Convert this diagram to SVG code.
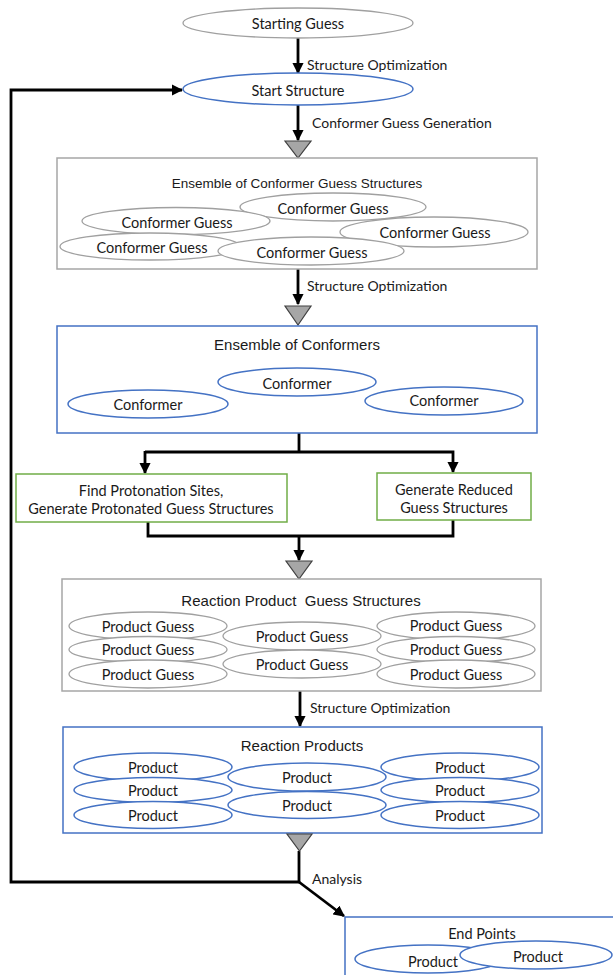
<svg xmlns="http://www.w3.org/2000/svg" width="613" height="975" viewBox="0 0 613 975">
<defs>
<style>
.cal{font-family:Lato,"Liberation Sans",sans-serif;font-size:14.5px;fill:#1a1a1a;text-anchor:middle;dominant-baseline:central}
.calL{font-family:Lato,"Liberation Sans",sans-serif;font-size:14px;fill:#1a1a1a;dominant-baseline:central}
.ari{font-family:"Liberation Sans",Arial,sans-serif;fill:#1a1a1a;text-anchor:middle;dominant-baseline:central;white-space:pre}
.gbox{fill:#fff;stroke:#a6a6a6;stroke-width:1.5}
.bbox{fill:#fff;stroke:#4472c4;stroke-width:1.5}
.grbox{fill:#fff;stroke:#70ad47;stroke-width:1.5}
.ge{fill:#fff;stroke:#a0a0a0;stroke-width:1.3}
.be{fill:#fff;stroke:#4472c4;stroke-width:1.5}
.ln{fill:none;stroke:#000;stroke-width:2.8}
.tri{fill:#a6a6a6;stroke:#404040;stroke-width:1.2}
</style>
<marker id="ah" viewBox="0 0 10 10" refX="9" refY="5" markerWidth="4" markerHeight="4" orient="auto" markerUnits="strokeWidth">
<path d="M0,0 L10,5 L0,10 z" fill="#000"/>
</marker>
</defs>
<rect width="613" height="975" fill="#fff"/>

<g id="connectors">
<line class="ln" x1="298" y1="38" x2="298" y2="73" marker-end="url(#ah)"/>
<line class="ln" x1="298" y1="105" x2="298" y2="140" marker-end="url(#ah)"/>
<line class="ln" x1="298" y1="269" x2="298" y2="304" marker-end="url(#ah)"/>
<polyline class="ln" points="299,433 299,452"/>
<polyline class="ln" points="145,452 453,452 453,472" marker-end="url(#ah)"/>
<line class="ln" x1="145" y1="451" x2="145" y2="473" marker-end="url(#ah)"/>
<polyline class="ln" points="148,522 148,536 453,536 453,520"/>
<line class="ln" x1="299" y1="536" x2="299" y2="560" marker-end="url(#ah)"/>
<line class="ln" x1="300" y1="691" x2="300" y2="726" marker-end="url(#ah)"/>
<polyline class="ln" points="299,851 299,882 11,882 11,90 182,90" marker-end="url(#ah)"/>
<line class="ln" x1="299" y1="882" x2="344" y2="916" marker-end="url(#ah)"/>
<text class="calL" x="307" y="64">Structure Optimization</text>
<text class="calL" x="312" y="122">Conformer Guess Generation</text>
<text class="calL" x="307" y="285">Structure Optimization</text>
<text class="calL" x="310" y="707">Structure Optimization</text>
<text class="calL" x="312" y="878">Analysis</text>
</g>

<g id="starting-guess">
<ellipse class="ge" cx="298" cy="23" rx="115" ry="15"/>
<text class="cal" x="298" y="23">Starting Guess</text>
</g>

<g id="start-structure">
<ellipse class="be" cx="298" cy="89" rx="115" ry="16"/>
<text class="cal" x="298" y="90">Start Structure</text>
</g>

<g id="tri1"><polygon class="tri" points="285,141 311,141 298,158"/></g>

<g id="conformer-guesses">
<rect class="gbox" x="57" y="158" width="480" height="111"/>
<text class="ari" x="297" y="183" font-size="13.5">Ensemble of Conformer Guess Structures</text>
<ellipse class="ge" cx="333" cy="207" rx="93" ry="14"/>
<text class="cal" x="333" y="208">Conformer Guess</text>
<ellipse class="ge" cx="176" cy="221" rx="94" ry="13.5"/>
<text class="cal" x="177" y="222">Conformer Guess</text>
<ellipse class="ge" cx="434" cy="232" rx="94" ry="15"/>
<text class="cal" x="435" y="232">Conformer Guess</text>
<ellipse class="ge" cx="150" cy="246.5" rx="90" ry="13.5"/>
<text class="cal" x="152" y="247">Conformer Guess</text>
<ellipse class="ge" cx="311" cy="251" rx="93" ry="14"/>
<text class="cal" x="312" y="252">Conformer Guess</text>
</g>

<g id="tri2"><polygon class="tri" points="285,306 311,306 298,325"/></g>

<g id="conformers">
<rect class="bbox" x="57" y="326" width="480" height="107"/>
<text class="ari" x="297" y="344" font-size="15">Ensemble of Conformers</text>
<ellipse class="be" cx="297" cy="382" rx="79" ry="14"/>
<text class="cal" x="297" y="383">Conformer</text>
<ellipse class="be" cx="148" cy="404" rx="80" ry="14"/>
<text class="cal" x="148" y="404">Conformer</text>
<ellipse class="be" cx="444" cy="401" rx="79" ry="14"/>
<text class="cal" x="444" y="400">Conformer</text>
</g>

<g id="protonation">
<rect class="grbox" x="16" y="474" width="271" height="48"/>
<text class="cal" x="151" y="490">Find Protonation Sites,</text>
<text class="cal" x="151" y="508">Generate Protonated Guess Structures</text>
</g>

<g id="reduced">
<rect class="grbox" x="377" y="473" width="154" height="47"/>
<text class="cal" x="454" y="489">Generate Reduced</text>
<text class="cal" x="454" y="507">Guess Structures</text>
</g>

<g id="tri3"><polygon class="tri" points="286,561 312,561 299,579"/></g>

<g id="product-guesses">
<rect class="gbox" x="62" y="579" width="479" height="112"/>
<text class="ari" x="301" y="600" font-size="15" xml:space="preserve">Reaction Product  Guess Structures</text>
<ellipse class="ge" cx="148" cy="626" rx="79" ry="14"/>
<text class="cal" x="148" y="626">Product Guess</text>
<ellipse class="ge" cx="148" cy="649.5" rx="79" ry="13"/>
<text class="cal" x="148" y="649">Product Guess</text>
<ellipse class="ge" cx="148" cy="674" rx="79" ry="14"/>
<text class="cal" x="148" y="674">Product Guess</text>
<ellipse class="ge" cx="302" cy="636" rx="79" ry="14"/>
<text class="cal" x="302" y="636">Product Guess</text>
<ellipse class="ge" cx="302" cy="664" rx="79" ry="14"/>
<text class="cal" x="302" y="664">Product Guess</text>
<ellipse class="ge" cx="456" cy="626" rx="79" ry="14"/>
<text class="cal" x="456" y="625">Product Guess</text>
<ellipse class="ge" cx="456" cy="649.5" rx="79" ry="13"/>
<text class="cal" x="456" y="649">Product Guess</text>
<ellipse class="ge" cx="456" cy="674" rx="79" ry="14"/>
<text class="cal" x="456" y="674">Product Guess</text>
</g>

<g id="products">
<rect class="bbox" x="63" y="727" width="479" height="106"/>
<text class="ari" x="302" y="745" font-size="15">Reaction Products</text>
<ellipse class="be" cx="153" cy="767" rx="79" ry="14"/>
<text class="cal" x="153" y="767">Product</text>
<ellipse class="be" cx="153" cy="790" rx="79" ry="12.5"/>
<text class="cal" x="153" y="790">Product</text>
<ellipse class="be" cx="153" cy="815" rx="79" ry="13.5"/>
<text class="cal" x="153" y="815">Product</text>
<ellipse class="be" cx="307" cy="777" rx="79" ry="14"/>
<text class="cal" x="307" y="777">Product</text>
<ellipse class="be" cx="307" cy="805" rx="79" ry="13.5"/>
<text class="cal" x="307" y="805">Product</text>
<ellipse class="be" cx="460" cy="767" rx="79" ry="14"/>
<text class="cal" x="460" y="767">Product</text>
<ellipse class="be" cx="460" cy="790" rx="79" ry="12.5"/>
<text class="cal" x="460" y="790">Product</text>
<ellipse class="be" cx="460" cy="815" rx="79" ry="13.5"/>
<text class="cal" x="460" y="815">Product</text>
</g>

<g id="tri4"><polygon class="tri" points="287,834 312,834 299.5,851"/></g>

<g id="end-points">
<rect class="bbox" x="345" y="917" width="280" height="80"/>
<text class="cal" x="482" y="933">End Points</text>
<ellipse class="be" cx="428" cy="959" rx="73" ry="14"/>
<text class="cal" x="433" y="961">Product</text>
<ellipse class="be" cx="536" cy="955" rx="76" ry="14"/>
<text class="cal" x="538" y="956">Product</text>
</g>
</svg>
